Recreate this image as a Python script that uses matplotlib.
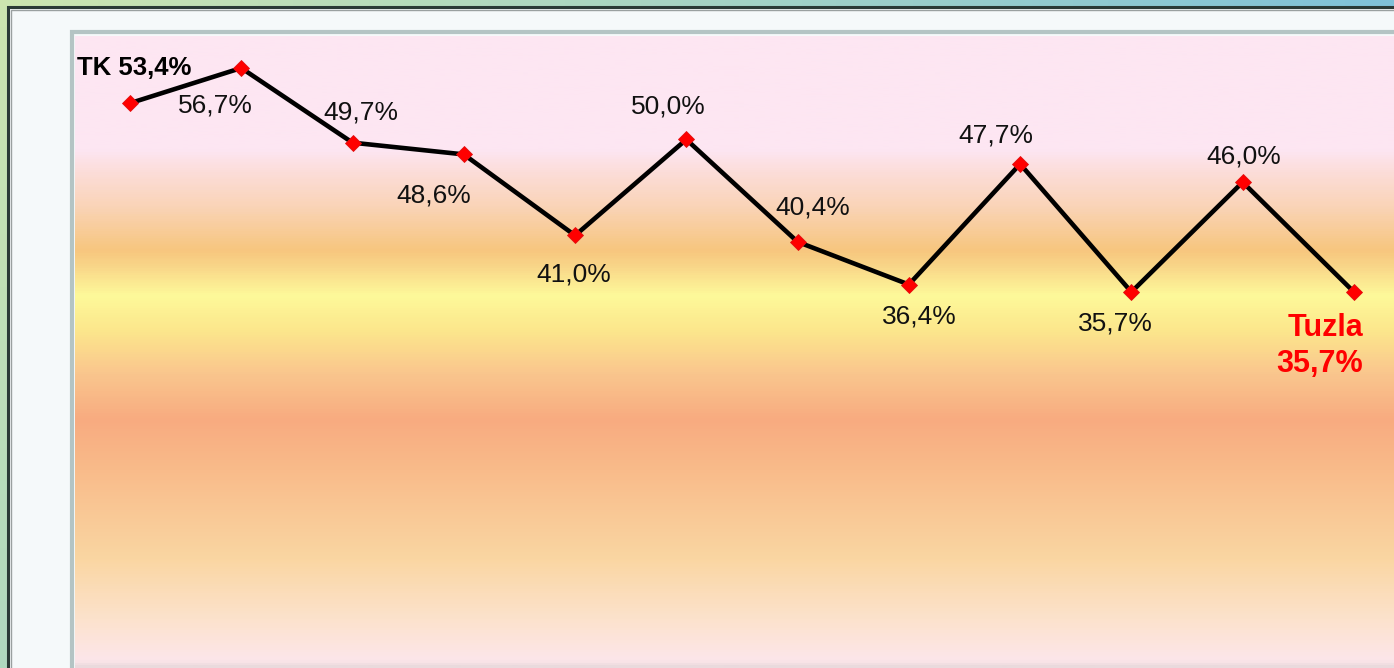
import matplotlib
matplotlib.use('Agg')
import matplotlib.pyplot as plt
import matplotlib.patches as patches
from matplotlib.colors import LinearSegmentedColormap
import numpy as np

# Data (percent values, left to right).
districts = ['TK', 'd2', 'd3', 'd4', 'd5', 'd6', 'd7', 'd8', 'd9', 'd10', 'd11', 'Tuzla']
shares = [53.4, 56.7, 49.7, 48.6, 41.0, 50.0, 40.4, 36.4, 47.7, 35.7, 46.0, 35.7]

# Label offsets in pixels (dx, dy with dy pointing down), one per point.
labelOffsets = [(0, 0), (-26, 38), (8, -30), (-30, 41), (-1, 39), (-18, -33),
                (15, -34), (10, 32), (-24, -29), (-16, 32), (1, -26), (0, 0)]

W, H = 1394, 668
DPI = 100


def fmt(v):
    return '{:.1f}%'.format(v).replace('.', ',')


def main():
    plt.rcParams['font.family'] = ['Liberation Sans', 'DejaVu Sans']
    fig = plt.figure(figsize=(W / DPI, H / DPI), dpi=DPI)

    # Outer green/blue background.
    bg = fig.add_axes([0, 0, 1, 1])
    bg.set_axis_off()
    xs = np.linspace(0, 1, 200)
    ys = np.linspace(0, 1, 100)
    X, Y = np.meshgrid(xs, ys)
    tl = np.array([0.80, 0.90, 0.69])
    tr = np.array([0.50, 0.76, 0.85])
    bl = np.array([0.69, 0.85, 0.75])
    br = np.array([0.55, 0.78, 0.84])
    img = ((1 - X)[..., None] * (1 - Y)[..., None] * tl + X[..., None] * (1 - Y)[..., None] * tr
           + (1 - X)[..., None] * Y[..., None] * bl + X[..., None] * Y[..., None] * br)
    bg.imshow(img, extent=[0, 1, 0, 1], aspect='auto', origin='upper')
    bg.set_xlim(0, 1)
    bg.set_ylim(0, 1)

    # Chart frame.
    def px(x, y):
        return x / W, 1 - y / H
    fx, fy = px(8, H + 20)
    bg.add_patch(patches.Rectangle((fx, fy), (W + 20 - 8) / W, (H + 20 - 7) / H,
                                   facecolor='#f5f9fa', edgecolor='#2a3a36', linewidth=2.2))
    fx, fy = px(11, H + 20)
    bg.add_patch(patches.Rectangle((fx, fy), (W + 20 - 11) / W, (H + 20 - 10) / H,
                                   facecolor='none', edgecolor='#9aa0a0', linewidth=1.0))
    fx, fy = px(72, H + 20)
    bg.add_patch(patches.Rectangle((fx, fy), (W + 20 - 72) / W, (H + 20 - 32) / H,
                                   facecolor='none', edgecolor='#b4c4c4', linewidth=3))

    # Plot area.
    left, top = 75, 36
    axes = fig.add_axes([left / W, 0, 1 - left / W, 1 - top / H])
    stops = [(36, '#fde6f2'), (150, '#fde6f2'), (168, '#fcdedc'), (205, '#fad4b8'),
             (250, '#f7c67e'), (268, '#f9d88a'), (295, '#fef99a'), (330, '#fce78c'),
             (372, '#fac78e'), (420, '#f8ab80'), (470, '#f9bb8a'), (560, '#fad6a2'),
             (620, '#fce2cc'), (662, '#fde6ea'), (668, '#eadadd')]
    pos = [(p - top) / (H - top) for p, _ in stops]
    cmap = LinearSegmentedColormap.from_list('band', list(zip(pos, [c for _, c in stops])))
    grad = np.linspace(0, 1, 600)[:, None]
    axes.imshow(grad, cmap=cmap, extent=[0, 1, 0, 1], transform=axes.transAxes,
                aspect='auto', origin='upper', zorder=0)

    xPositions = np.arange(len(shares))
    axes.plot(xPositions, shares, color='black', linewidth=3.3, zorder=2)
    axes.plot(xPositions, shares, linestyle='none', marker='D', markersize=8.5,
              markerfacecolor='#ff0000', markeredgecolor='#e01010', markeredgewidth=0.6, zorder=3)

    axes.set_xlim(-0.494, 11.36)
    axes.set_ylim(0.45, 59.7)
    axes.set_axis_off()

    k = 72 / DPI
    for i, v in enumerate(shares):
        if i == 0 or i == len(shares) - 1:
            continue
        dx, dy = labelOffsets[i]
        axes.annotate(fmt(v), (xPositions[i], v), xytext=(dx * k, -dy * k), textcoords='offset points',
                      ha='center', va='center', fontsize=19, color='#111111', zorder=4)

    axes.annotate('{} {}'.format(districts[0], fmt(shares[0])), (xPositions[0], shares[0]),
                  xytext=(-53 * k, 35 * k), textcoords='offset points', ha='left', va='center',
                  fontsize=18.5, fontweight='bold', color='black', zorder=4)
    axes.annotate('{}\n{}'.format(districts[-1], fmt(shares[-1])), (xPositions[-1], shares[-1]),
                  xytext=(9 * k, -54 * k), textcoords='offset points', ha='right', va='center',
                  multialignment='right', fontsize=22, fontweight='bold', color='#ff0000',
                  linespacing=1.3, zorder=4)

    fig.savefig('out.png', dpi=DPI)


if __name__ == '__main__':
    main()
